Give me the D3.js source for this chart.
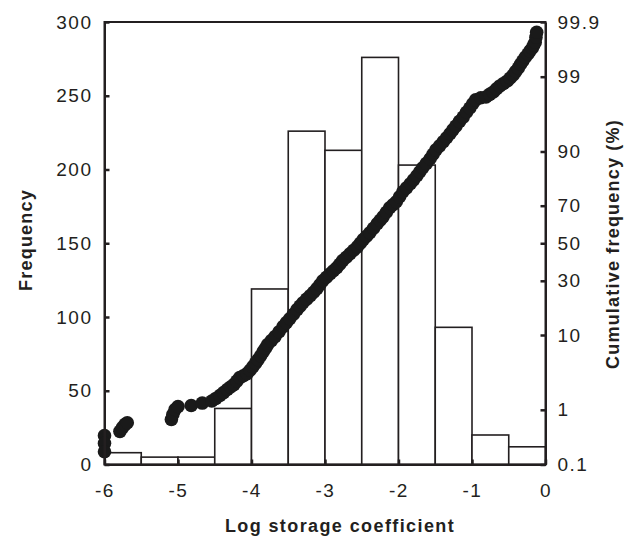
<!DOCTYPE html>
<html>
<head>
<meta charset="utf-8">
<script src="https://cdn.jsdelivr.net/npm/d3@7"></script>
<style>
body { margin: 0; background: #fff; }
text { font-family: "Liberation Sans", Arial, sans-serif; fill: #231f20; }
</style>
</head>
<body>
<script>
var w = 624;
var h = 540;

// histogram: bin starts (log storage coefficient) and counts
var binStart = [-6, -5.5, -5, -4.5, -4, -3.5, -3, -2.5, -2, -1.5, -1, -0.5];
var binWidth = 0.5;
var frequency = [8, 5, 5, 38, 119, 226, 213, 276, 203, 93, 20, 12];

// cumulative points: log value and cumulative %
var logValue = [-6.00, -6.00, -6.00, -5.79, -5.755, -5.72, -5.69,
  -5.09, -5.07, -5.04, -5.00, -4.82, -4.67,
  -4.54, -4.485, -4.43, -4.38, -4.33, -4.285, -4.24, -4.20, -4.16, -4.11,
  -4.06, -4.02, -3.98, -3.945, -3.91, -3.875, -3.84, -3.81, -3.78, -3.73,
  -3.68, -3.625, -3.57, -3.525, -3.48, -3.43, -3.38, -3.34, -3.30, -3.25,
  -3.20, -3.155, -3.11, -3.07, -3.03, -2.98, -2.93, -2.885, -2.84, -2.80,
  -2.76, -2.71, -2.66, -2.61, -2.56, -2.52, -2.48, -2.435, -2.39, -2.34,
  -2.29, -2.25, -2.21, -2.165, -2.12, -2.075, -2.03, -1.985, -1.94, -1.89,
  -1.84, -1.795, -1.75, -1.71, -1.67, -1.62, -1.57, -1.53, -1.49, -1.44,
  -1.39, -1.345, -1.30, -1.26, -1.22, -1.17, -1.12, -1.075, -1.03, -0.99,
  -0.95, -0.88, -0.81, -0.76, -0.71, -0.665, -0.62, -0.57, -0.52, -0.48,
  -0.44, -0.405, -0.37, -0.34, -0.31, -0.275, -0.24, -0.21, -0.18, -0.16,
  -0.14, -0.13, -0.12];
var cumPct = [0.36, 0.26, 0.18, 0.43, 0.50, 0.57, 0.61,
  0.69, 0.84, 1.01, 1.13, 1.17, 1.28,
  1.38, 1.51, 1.67, 1.85, 2.05, 2.23, 2.42, 2.71, 3.03, 3.21,
  3.43, 3.81, 4.24, 4.70, 5.21, 5.81, 6.50, 7.13, 7.84, 8.68,
  9.61, 10.83, 12.2, 13.37, 14.6, 16.09, 17.7, 18.98, 20.3, 21.74,
  23.2, 24.7, 26.3, 28.13, 30.0, 31.73, 33.5, 35.05, 36.6, 38.48,
  40.4, 42.27, 44.2, 46.1, 48.0, 50.0, 52.0, 53.9, 55.8, 58.28,
  60.7, 62.59, 64.4, 66.76, 69.0, 70.45, 71.9, 74.2, 76.4, 78.06,
  79.7, 81.21, 82.7, 84.08, 85.4, 86.78, 88.1, 89.31, 90.4, 91.32,
  92.2, 92.96, 93.7, 94.34, 94.9, 95.56, 96.1, 96.63, 97.06, 97.43,
  97.74, 97.89, 97.95, 98.12, 98.27, 98.45, 98.60, 98.72, 98.83, 98.95,
  99.06, 99.18, 99.28, 99.38, 99.455, 99.53, 99.59, 99.64, 99.68, 99.72,
  99.75, 99.80, 99.84];

var xTicks = [-6, -5, -4, -3, -2, -1, 0];
var freqTicks = [0, 50, 100, 150, 200, 250, 300];
var pctTicks = [0.1, 1, 10, 30, 50, 70, 90, 99, 99.9];

// inverse normal cdf (Acklam) for the probability axis
function qnorm(p) {
  var a = [-39.6968302866538, 220.946098424521, -275.928510446969, 138.357751867269, -30.6647980661472, 2.50662827745924];
  var b = [-54.4760987982241, 161.585836858041, -155.698979859887, 66.8013118877197, -13.2806815528857];
  var c = [-0.00778489400243029, -0.322396458041136, -2.40075827716184, -2.54973253934373, 4.37466414146497, 2.93816398269878];
  var d = [0.00778469570904146, 0.32246712907004, 2.445134137143, 3.75440866190742];
  var q, r;
  if (p < 0.02425) {
    q = Math.sqrt(-2 * Math.log(p));
    return (((((c[0]*q+c[1])*q+c[2])*q+c[3])*q+c[4])*q+c[5]) / ((((d[0]*q+d[1])*q+d[2])*q+d[3])*q+1);
  }
  if (p > 1 - 0.02425) {
    q = Math.sqrt(-2 * Math.log(1 - p));
    return -(((((c[0]*q+c[1])*q+c[2])*q+c[3])*q+c[4])*q+c[5]) / ((((d[0]*q+d[1])*q+d[2])*q+d[3])*q+1);
  }
  q = p - 0.5; r = q * q;
  return (((((a[0]*r+a[1])*r+a[2])*r+a[3])*r+a[4])*r+a[5])*q / (((((b[0]*r+b[1])*r+b[2])*r+b[3])*r+b[4])*r+1);
}

var plotL = 104.5, plotR = 545.5, plotT = 22, plotB = 464.5;

var x = d3.scaleLinear().domain([-6, 0]).range([plotL, plotR]);
var y = d3.scaleLinear().domain([0, 300]).range([plotB, plotT]);
var z = d3.scaleLinear().domain([qnorm(0.001), qnorm(0.999)]).range([plotB, plotT]);

var svg = d3.select("body").append("svg")
  .attr("width", w)
  .attr("height", h);

// bars
svg.selectAll("rect.bar")
  .data(frequency)
  .enter()
  .append("rect")
  .attr("class", "bar")
  .attr("x", function(d, i) { return x(binStart[i]); })
  .attr("y", function(d) { return y(d); })
  .attr("width", function(d, i) { return x(binStart[i] + binWidth) - x(binStart[i]); })
  .attr("height", function(d) { return plotB - y(d); })
  .attr("fill", "#fff")
  .attr("stroke", "#231f20")
  .attr("stroke-width", 1.6);

// cumulative dots
svg.selectAll("circle.pt")
  .data(logValue)
  .enter()
  .append("circle")
  .attr("class", "pt")
  .attr("cx", function(d) { return x(d); })
  .attr("cy", function(d, i) { return z(qnorm(cumPct[i] / 100)); })
  .attr("r", 6.8)
  .attr("fill", "#1a1a1a");

// frame
svg.append("rect")
  .attr("x", plotL).attr("y", plotT)
  .attr("width", plotR - plotL).attr("height", plotB - plotT)
  .attr("fill", "none")
  .attr("stroke", "#231f20")
  .attr("stroke-width", 2);

function styleAxis(g) {
  g.select(".domain").attr("stroke", "#231f20").attr("stroke-width", 2);
  g.selectAll(".tick line").attr("stroke", "#231f20").attr("stroke-width", 2.5);
  g.selectAll(".tick text")
    .attr("fill", "#231f20")
    .style("font-family", "'Liberation Sans', Arial, sans-serif")
    .style("font-size", "19px")
    .style("letter-spacing", "1.5px");
}

svg.append("g")
  .attr("transform", "translate(" + plotL + ",0)")
  .call(d3.axisLeft(y).tickValues(freqTicks).tickSizeInner(-5).tickSizeOuter(0).tickPadding(12))
  .call(styleAxis);

svg.append("g")
  .attr("transform", "translate(0," + plotB + ")")
  .call(d3.axisBottom(x).tickValues(xTicks)
    .tickFormat(function(d) { return String(d); })
    .tickSizeInner(-5).tickSizeOuter(0).tickPadding(19))
  .call(styleAxis);

svg.append("g")
  .attr("transform", "translate(" + plotR + ",0)")
  .call(d3.axisRight(z)
    .tickValues(pctTicks.map(function(p) { return qnorm(p / 100); }))
    .tickFormat(function(d, i) { return String(pctTicks[i]); })
    .tickSizeInner(-5).tickSizeOuter(0).tickPadding(12))
  .call(styleAxis);

// titles
svg.append("text")
  .attr("x", 340).attr("y", 532)
  .attr("text-anchor", "middle")
  .style("font-size", "18px")
  .style("font-weight", "bold")
  .style("letter-spacing", "1.4px")
  .text("Log storage coefficient");

svg.append("text")
  .attr("transform", "translate(32,240) rotate(-90)")
  .attr("text-anchor", "middle")
  .style("font-size", "18px")
  .style("font-weight", "bold")
  .style("letter-spacing", "1.2px")
  .text("Frequency");

svg.append("text")
  .attr("transform", "translate(619,244) rotate(-90)")
  .attr("text-anchor", "middle")
  .style("font-size", "18px")
  .style("font-weight", "bold")
  .style("letter-spacing", "1.2px")
  .text("Cumulative frequency (%)");
</script>
</body>
</html>
